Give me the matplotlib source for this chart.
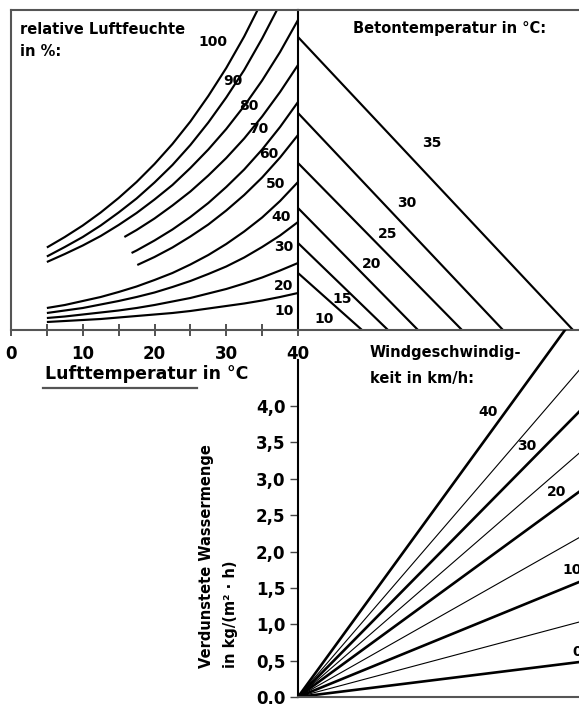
#!/usr/bin/env python
# -*- coding: utf-8 -*-

"""
Nomogramm zur Abschaetzung der verdunsteten Wassermenge (Beton).
"""

import matplotlib
matplotlib.use('Agg')
from matplotlib import pyplot as plt
from matplotlib.lines import Line2D

W, H = 579, 704

# relative Luftfeuchte: Lufttemperatur [°C] -> Dampfdruck (Hilfsskala)
temp_low = [5, 7.5, 10, 12.5, 15, 17.5, 20, 22.5, 25, 27.5, 30, 32.5, 35, 37.5, 40]
rh100 = [16.5, 18.6, 20.9, 23.5, 26.4, 29.6, 33.2, 37.2, 41.7, 46.8, 52.4, 58.7, 65.8]
rh90 = [14.7, 16.6, 18.6, 20.9, 23.5, 26.3, 29.5, 33.0, 37.0, 41.5, 46.5, 52.0, 58.3, 65.2]
rh80 = [13.6, 15.2, 16.9, 18.8, 21.0, 23.4, 26.1, 29.0, 32.4, 36.1, 40.2, 44.8, 49.9, 55.6, 62.0]
temp_70 = [15.8, 17.5, 20, 22.5, 25, 27.5, 30, 32.5, 35, 37.5, 40]
rh70 = [18.6, 20.0, 22.3, 24.9, 27.7, 30.9, 34.4, 38.3, 42.7, 47.6, 53.0]
temp_60 = [16.8, 17.5, 20, 22.5, 25, 27.5, 30, 32.5, 35, 37.5, 40]
rh60 = [15.4, 15.9, 17.9, 20.1, 22.6, 25.4, 28.6, 32.1, 36.1, 40.6, 45.6]
temp_50 = [17.6, 20, 22.5, 25, 27.5, 30, 32.5, 35, 37.5, 40]
rh50 = [13.0, 14.6, 16.5, 18.7, 21.1, 23.9, 27.0, 30.5, 34.5, 39.0]
rh40 = [4.4, 5.0, 5.8, 6.6, 7.6, 8.7, 10.0, 11.4, 13.1, 15.0, 17.2, 19.7, 22.5, 25.8, 29.6]
rh30 = [3.4, 3.9, 4.4, 5.1, 5.8, 6.6, 7.5, 8.6, 9.8, 11.2, 12.7, 14.5, 16.6, 18.9, 21.6]
rh20 = [2.4, 2.7, 3.1, 3.5, 3.9, 4.4, 5.0, 5.7, 6.4, 7.3, 8.2, 9.3, 10.5, 11.9, 13.4]
rh10 = [1.6, 1.8, 2.0, 2.2, 2.5, 2.8, 3.1, 3.4, 3.8, 4.3, 4.8, 5.3, 5.9, 6.6, 7.4]

# Betontemperatur: Schnitt mit linker Achse bzw. unterer Kante
concrete_temp = [10, 15, 20, 25, 30, 35]
concrete_left = [11.4, 17.4, 24.4, 33.4, 43.4, 58.6]
concrete_bottom = [12.8, 18.0, 24.0, 32.8, 41.0, 55.0]

# Windgeschwindigkeit: verdunstete Menge am rechten Rand
wind_speed = [0, 5, 10, 15, 20, 25, 30, 35, 40]
wind_right = [0.48, 1.03, 1.58, 2.19, 2.82, 3.35, 3.92, 4.49, 5.31]

evap_ticks = [0.0, 0.5, 1.0, 1.5, 2.0, 2.5, 3.0, 3.5, 4.0]
air_ticks = [0, 5, 10, 15, 20, 25, 30, 35, 40]

plt.rcParams['font.family'] = ['DejaVu Sans']
plt.rcParams['font.weight'] = 'bold'

fig = plt.figure(figsize=(W / 100, H / 100), dpi=100)
fig.patch.set_facecolor('white')


def box(x0, y0, x1, y1):
    # pixel box -> figure fractions
    return (x0 / W, 1 - y1 / H, (x1 - x0) / W, (y1 - y0) / H)


def put(x, y, s, size=10, **kw):
    kw.setdefault('ha', 'center')
    kw.setdefault('va', 'center')
    fig.text(x / W, 1 - y / H, s, fontsize=size, fontweight='bold', **kw)


GRAY = '#555555'

# --- oben links: Luftfeuchte ---
ax1 = fig.add_axes(box(11, 10, 298, 330))
ax1.set_facecolor('none')
ax1.set_xlim(0, 40)
ax1.set_ylim(0, 64)
curves = [
    (temp_low[:len(rh100)], rh100), (temp_low[:len(rh90)], rh90),
    (temp_low, rh80), (temp_70, rh70), (temp_60, rh60), (temp_50, rh50),
    (temp_low, rh40), (temp_low, rh30), (temp_low, rh20), (temp_low, rh10),
]
for t, v in curves:
    ax1.plot(t, v, color='black', lw=1.55, solid_capstyle='butt')
ax1.set_xticks(air_ticks)
ax1.set_xticklabels([str(t) if t % 10 == 0 else '' for t in air_ticks])
ax1.set_yticks([])
ax1.tick_params(axis='x', direction='inout', length=9, width=1.2,
                color='#333333', labelsize=12, pad=6)
for side in ['left', 'top', 'bottom']:
    ax1.spines[side].set_color(GRAY)
    ax1.spines[side].set_linewidth(1.5)
ax1.spines['right'].set_color('black')
ax1.spines['right'].set_linewidth(1.5)

# --- oben rechts: Betontemperatur ---
ax2 = fig.add_axes(box(298, 10, 579, 330))
ax2.set_facecolor('none')
ax2.set_xlim(0, 56.2)
ax2.set_ylim(0, 64)
for yl, xb in zip(concrete_left, concrete_bottom):
    ax2.plot([0, xb], [yl, 0], color='black', lw=1.55)
ax2.set_xticks([])
ax2.set_yticks([])
for side in ['top', 'bottom']:
    ax2.spines[side].set_color(GRAY)
    ax2.spines[side].set_linewidth(1.5)
ax2.spines['left'].set_visible(False)
ax2.spines['right'].set_visible(False)

# --- unten rechts: Windgeschwindigkeit ---
ax3 = fig.add_axes(box(298, 330, 579, 697))
ax3.set_facecolor('none')
ax3.set_xlim(0, 56.2)
ax3.set_ylim(0, 5.045)
for w, e in zip(wind_speed, wind_right):
    thick = (w % 10 == 0)
    ax3.plot([0, 56.2], [0, e], color='black', lw=1.9 if thick else 0.8)
ax3.set_xticks([])
ax3.set_yticks(evap_ticks)
ax3.set_yticklabels([('%.1f' % v).replace('.', ',') for v in evap_ticks])
ax3.tick_params(axis='y', direction='out', length=6, width=1.0,
                color='#444444', labelsize=12, pad=3)
ax3.spines['left'].set_bounds(0, 4.63)
ax3.spines['left'].set_linewidth(1.5)
ax3.spines['bottom'].set_color(GRAY)
ax3.spines['bottom'].set_linewidth(1.5)
ax3.spines['top'].set_visible(False)
ax3.spines['right'].set_visible(False)

# --- Beschriftungen ---
put(20, 30, 'relative Luftfeuchte', size=10.5, ha='left')
put(20, 52, 'in %:', size=10.5, ha='left')
rh_labels = [('100', 213, 42), ('90', 233, 81), ('80', 249, 106),
             ('70', 259, 129), ('60', 269, 154), ('50', 276, 184),
             ('40', 281, 217), ('30', 284, 247), ('20', 284, 286),
             ('10', 284, 311)]
for s, x, y in rh_labels:
    put(x, y, s)

put(450, 28, 'Betontemperatur in °C:', size=10.5)
for t, x, y in zip(concrete_temp, [324, 342, 372, 388, 407, 432],
                   [319, 299, 264, 234, 203, 143]):
    put(x, y, str(t))

put(45, 374, 'Lufttemperatur in °C', size=12.5, ha='left')
fig.add_artist(Line2D([43 / W, 197 / W], [1 - 388 / H, 1 - 388 / H],
                      color=GRAY, lw=1.6))

put(370, 353, 'Windgeschwindig-', size=10.5, ha='left')
put(370, 378, 'keit in km/h:', size=10.5, ha='left')
for s, x, y in [('40', 488, 412), ('30', 527, 446), ('20', 557, 492),
                ('10', 572, 570), ('0', 577, 652)]:
    put(x, y, s)

put(207, 668, 'Verdunstete Wassermenge', size=10.5, rotation=90, va='bottom')
put(230, 668, 'in kg/(m² · h)', size=10.5, rotation=90, va='bottom')

fig.savefig('out.png', dpi=100)
